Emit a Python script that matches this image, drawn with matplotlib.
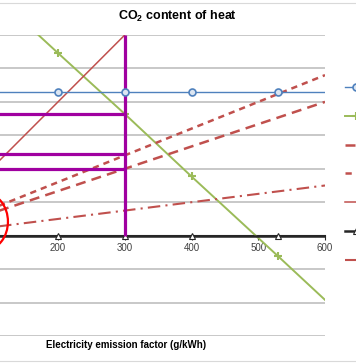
import matplotlib
matplotlib.use("Agg")
import matplotlib.pyplot as plt
from matplotlib.patches import Ellipse
from matplotlib.lines import Line2D

plt.rcParams['font.family'] = ['Liberation Sans', 'DejaVu Sans']
plt.rcParams['mathtext.fontset'] = 'custom'
plt.rcParams['mathtext.rm'] = 'Liberation Sans:bold'
plt.rcParams['mathtext.bf'] = 'Liberation Sans:bold'
plt.rcParams['mathtext.it'] = 'Liberation Sans:bold'

# data (g/kWh)
factor = [0, 100, 200, 300, 400, 530, 600]
blue_y = [430, 430, 430, 430, 430, 430, 430]
green_y = [915, 730, 546, 364, 177, -62, -192]
black_y = [0, 0, 0, 0, 0, 0, 0]
red_x = [0, 600]
red_dash_hi = [0, 480]
red_dash_lo = [0, 400]
red_dashdot = [0, 150]
red_solid_x = [0, 300]
red_solid_y = [0, 600]
guide_x = 300
guide_y = [364, 244, 198]
x_ticks = [200, 300, 400, 500, 600]  # 0 and 100 fall outside the cropped view
y_grid = [-300, -200, -100, 0, 100, 200, 300, 400, 500, 600]

fig = plt.figure(figsize=(3.56, 3.64), dpi=100)
W, H = 356, 364
ax = fig.add_axes([-75.5 / W, 28 / H, 400.5 / W, 301 / H])

ax.set_xlim(0, 600)
ax.set_ylim(-300, 600)
ax.set_yticks(y_grid)
ax.set_xticks(x_ticks)
ax.grid(axis='y', color='#bfbfbf', lw=1.2)
ax.set_axisbelow(True)
for s in ['left', 'right', 'top']:
    ax.spines[s].set_visible(False)
ax.spines['bottom'].set_position(('data', 0))
ax.spines['bottom'].set_color('#262626')
ax.spines['bottom'].set_linewidth(1.5)
ax.tick_params(axis='y', left=False, labelleft=False)
ax.tick_params(axis='x', length=3, width=0.8, color='#262626', labelsize=7,
               labelcolor='#404040', pad=2)

mk = [0, 1, 2, 3, 4, 5]
h_blue, = ax.plot(factor, blue_y, color='#4f81bd', lw=1, marker='o', ms=5,
                  mfc='#dce6f2', mec='#4f81bd', mew=1.2, markevery=mk, zorder=6)
h_green, = ax.plot(factor, green_y, color='#9bbb59', lw=1.4, marker='+', ms=6,
                   mew=1.5, markevery=mk, zorder=3)
h_lo, = ax.plot(red_x, red_dash_lo, color='#c0504d', lw=1.8, dashes=(4, 2.5), zorder=3)
h_hi, = ax.plot(red_x, red_dash_hi, color='#c0504d', lw=1.8, dashes=(2.5, 2), zorder=3)
h_solid, = ax.plot(red_solid_x, red_solid_y, color='#c0504d', lw=1.1, zorder=3)
h_black, = ax.plot(factor, black_y, color='#262626', lw=1.8, marker='^', ms=5,
                   mfc='white', mec='#262626', mew=0.8, markevery=mk, zorder=4)
h_dd, = ax.plot(red_x, red_dashdot, color='#c0504d', lw=1.5, dashes=(6, 2.5, 1, 2.5),
                zorder=3)

# purple guide lines
purple = '#a000a0'
ax.plot([guide_x, guide_x], [0, 600], color=purple, lw=2.3, zorder=5, solid_capstyle='butt')
for gy in guide_y:
    ax.plot([0, guide_x], [gy, gy], color=purple, lw=2.3, zorder=5, solid_capstyle='butt')

ax.add_patch(Ellipse((92, 42), 66, 167, fill=False, edgecolor='red', lw=1.6, zorder=7))

fig.text(177 / W, 1 - 16 / H, r'CO$_{\mathbf{2}}$ content of heat', ha='center',
         va='center', fontsize=9, fontweight='bold')
fig.text(126 / W, 1 - 345 / H, 'Electricity emission factor (g/kWh)', ha='center',
         va='center', fontsize=7, fontweight='bold')

fig.add_artist(Line2D([0, 1], [1 - 3 / H, 1 - 3 / H], color='#d9d9d9', lw=0.8))
fig.add_artist(Line2D([0, 1], [1 - 361 / H, 1 - 361 / H], color='#d9d9d9', lw=0.8))

handles = [h_blue, h_green, h_lo, h_hi, h_solid, h_black, h_dd]
fig.legend(handles, [''] * 7, loc='upper left', bbox_to_anchor=(345 / W, 1 - 82 / H),
           frameon=False, handlelength=2.2, handletextpad=0, borderpad=0,
           borderaxespad=0, labelspacing=1.95, fontsize=7)

fig.savefig('out.png', dpi=100)
